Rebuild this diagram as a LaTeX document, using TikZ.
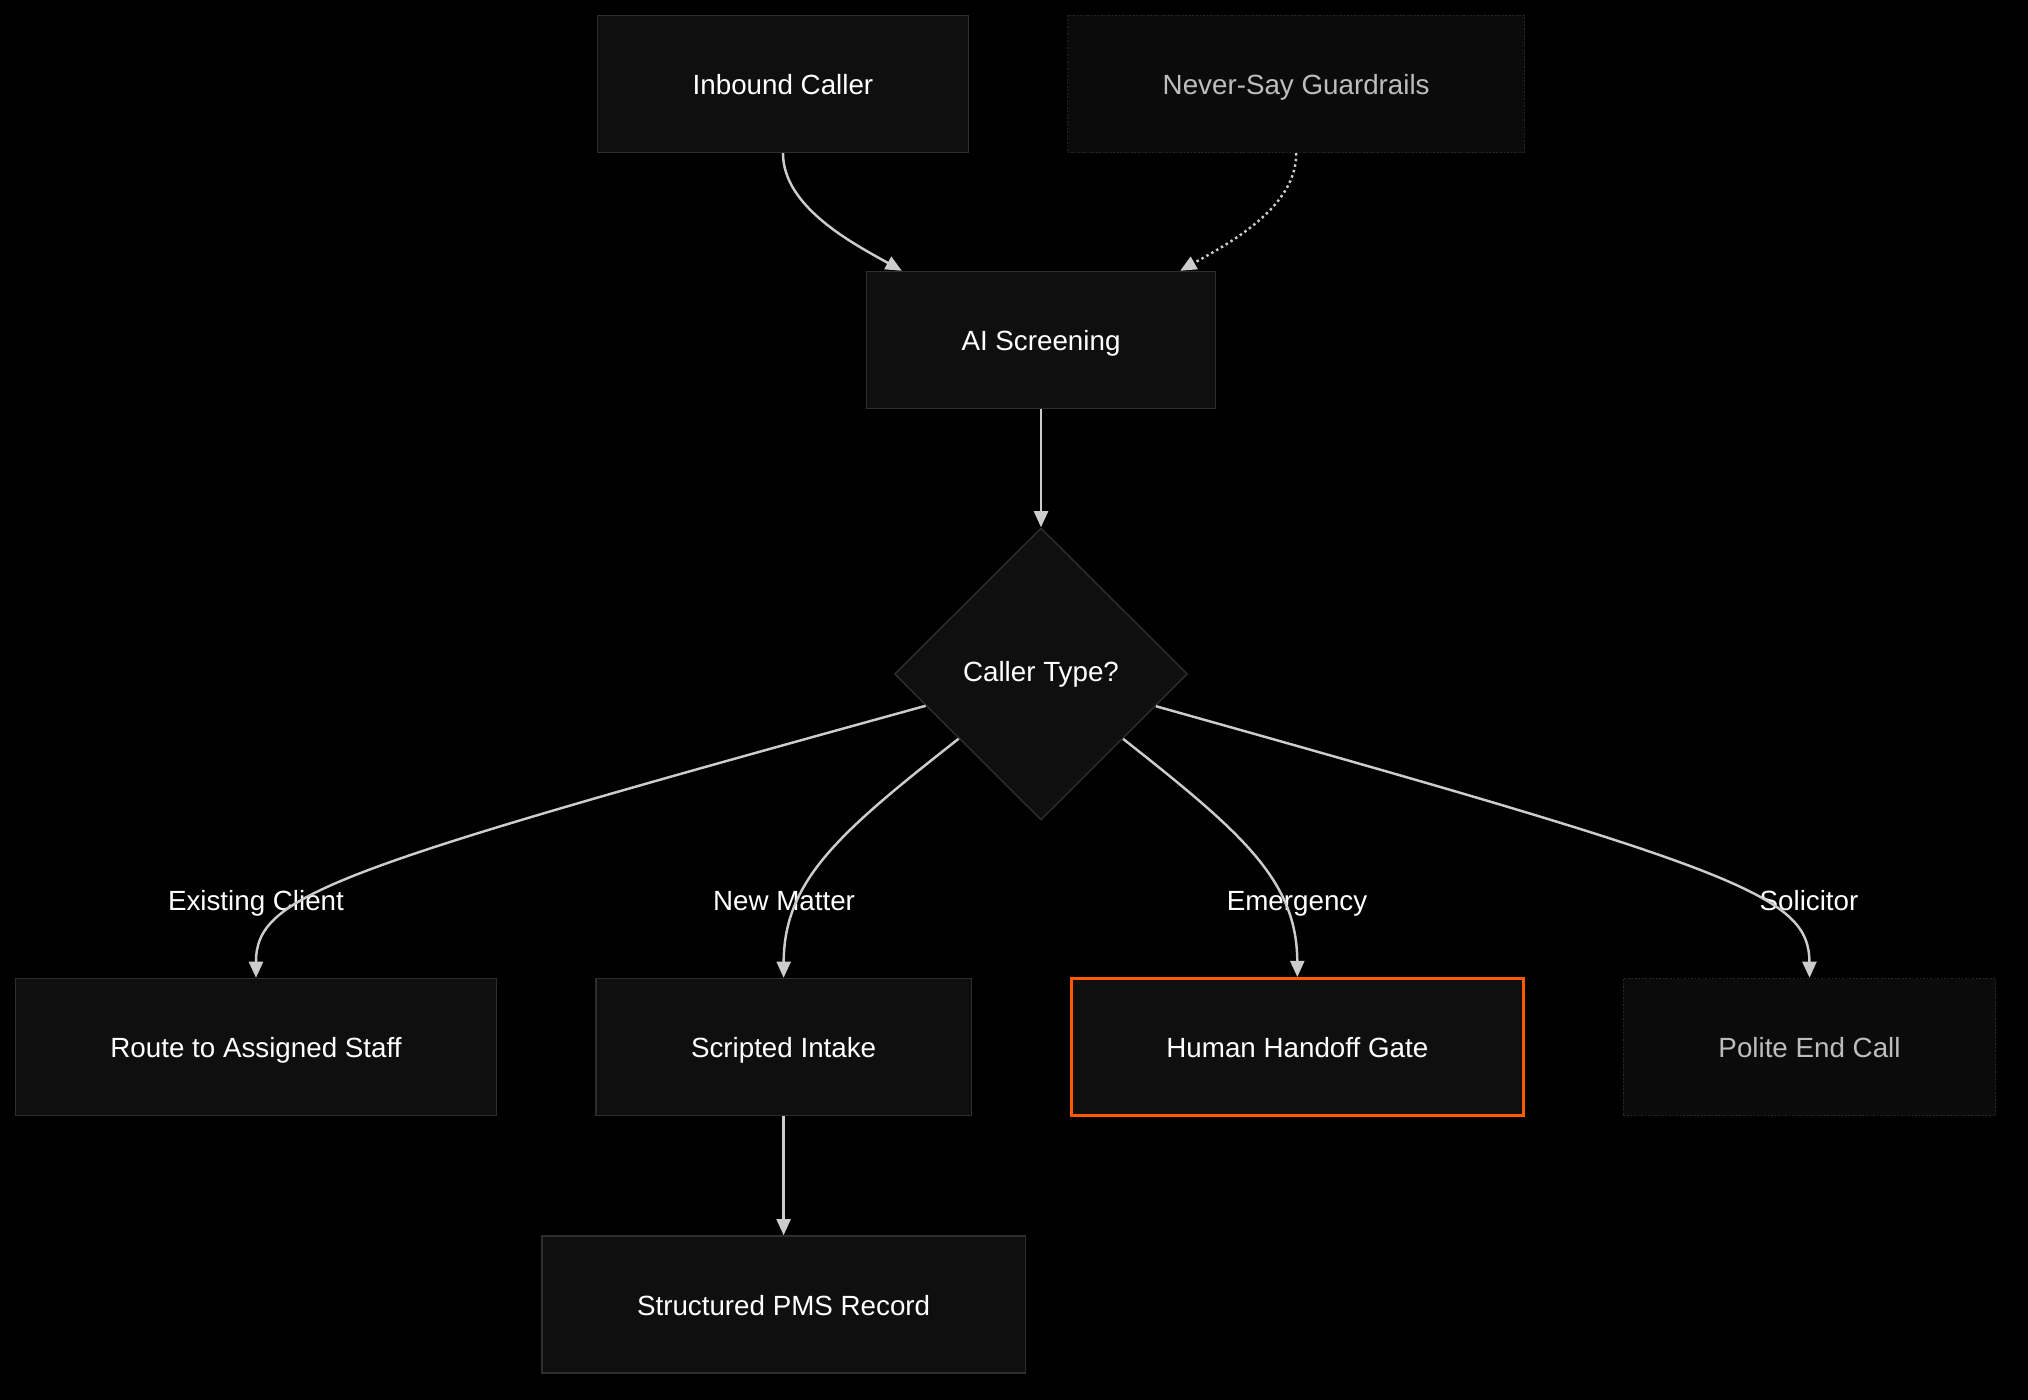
\documentclass[tikz,border=0pt]{standalone}
\usepackage{fontspec}
\setmainfont{Liberation Sans}
\usepackage{xcolor}
\usetikzlibrary{shapes.geometric, arrows.meta, positioning, backgrounds}

\definecolor{canvas}{HTML}{000000}
\definecolor{boxfill}{HTML}{0F0F0F}
\definecolor{boxline}{HTML}{2E2E2E}
\definecolor{mutedfill}{HTML}{0B0B0B}
\definecolor{mutedline}{HTML}{262626}
\definecolor{mutedtext}{HTML}{BDBDBD}
\definecolor{flowgrey}{HTML}{CCCCCC}
\definecolor{handoff}{HTML}{FF5A00}

\begin{document}
\begin{tikzpicture}[
    node distance=1.19cm and 0.98cm,
    process/.style={rectangle, draw=boxline, fill=boxfill, line width=0.4pt, inner xsep=0.95cm, minimum height=1.37cm, text height=1.6ex, text depth=0.45ex, font=\fontsize{7.9}{9.5}\selectfont, text=white},
    muted/.style={process, draw=mutedline, fill=mutedfill, dash pattern=on 0.5pt off 0.5pt, text=mutedtext},
    alert/.style={process, draw=handoff, line width=0.85pt},
    decision/.style={diamond, draw=boxline, fill=boxfill, line width=0.4pt, inner sep=0pt, minimum width=2.93cm, minimum height=2.92cm, font=\fontsize{7.9}{9.5}\selectfont, text=white},
    branch_label/.style={font=\fontsize{7.9}{9.5}\selectfont, text=white, inner sep=1pt, text height=1.6ex, text depth=0.45ex},
    flow/.style={-{Triangle[length=4.6pt, width=4pt]}, line width=0.7pt, draw=flowgrey},
    guard/.style={flow, dash pattern=on 0.7pt off 0.9pt}
]

    % --- Canvas ---
    \useasboundingbox (0,0) rectangle (20.28,-14.00);
    \begin{scope}[on background layer]
        \fill[canvas] (0,0) rectangle (20.28,-14.00);
    \end{scope}

    % --- Intake ---
    \node[process] (inbound) at (7.83,-0.84) {Inbound Caller};
    \node[muted, right=of inbound] (guardrails) {Never-Say Guardrails};
    \node[process] (screening) at (10.41,-3.40) {AI Screening};
    \node[decision] (callertype) at (10.41,-6.74) {Caller Type?};

    % --- Outcomes (Left to Right) ---
    \node[process] (routestaff) at (2.56,-10.47) {Route to Assigned Staff};
    \node[process, right=of routestaff] (intake) {Scripted Intake};
    \node[alert, right=of intake] (handoffgate) {Human Handoff Gate};
    \node[muted, right=of handoffgate] (endcall) {Polite End Call};
    \node[process, below=of intake] (pmsrecord) {Structured PMS Record};

    % --- Branch labels ---
    \node[branch_label] (lblexisting) at (2.56,-9.00) {Existing Client};
    \node[branch_label] (lblnew) at (7.84,-9.00) {New Matter};
    \node[branch_label] (lblemergency) at (12.97,-9.00) {Emergency};
    \node[branch_label] (lblsolicitor) at (18.09,-9.00) {Solicitor};

    % --- Flow ---
    \draw[flow] (inbound.south) .. controls (7.83,-2.08) and (8.56,-2.45) .. ([xshift=0.36cm]screening.north west);
    \draw[guard] (guardrails.south) .. controls (12.97,-2.08) and (12.26,-2.45) .. ([xshift=-0.36cm]screening.north east);
    \draw[flow] (screening) -- (callertype);

    \draw[flow] (callertype) .. controls (3.30,-8.70) and (2.56,-8.95) .. (routestaff.north);
    \draw[flow] (callertype) .. controls (8.40,-8.32) and (7.84,-8.80) .. (intake.north);
    \draw[flow] (callertype) .. controls (12.41,-8.32) and (12.97,-8.80) .. (handoffgate.north);
    \draw[flow] (callertype) .. controls (17.40,-8.70) and (18.09,-8.95) .. (endcall.north);

    \draw[flow] (intake) -- (pmsrecord);

\end{tikzpicture}
\end{document}
